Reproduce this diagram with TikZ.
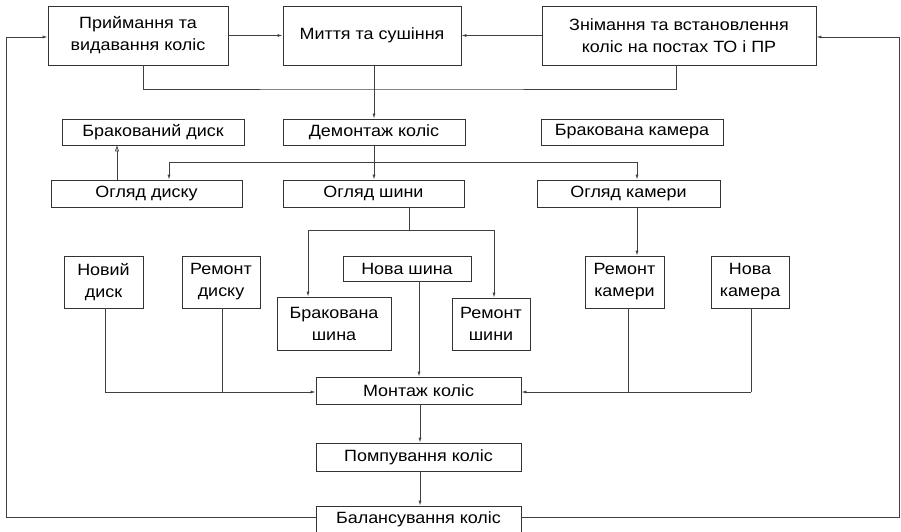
\documentclass[tikz,border=0pt]{standalone}
\usepackage{fontspec}
\setmainfont{Liberation Sans}[FakeStretch=1.1]
\usetikzlibrary{arrows.meta}
\tikzset{
  box/.style={draw=black!80, line width=0.8pt, rectangle, inner sep=0pt, align=center,
    font=\fontsize{16.3}{22}\selectfont, text=black},
  ln/.style={draw=black!75, line width=0.8pt},
  arr/.style={ln, -{Latex[length=5pt,width=3pt]}},
  openarr/.style={ln, -{Triangle[open,length=6pt,width=4pt]}},
}
\newcommand{\bx}[7]{\node[box, minimum width=#4pt, minimum height=#5pt] (#1) at (#2,#3) {#6#7};}
\begin{document}
\begin{tikzpicture}[x=1pt,y=-1pt]
\useasboundingbox (0,0) rectangle (901,532);
% boxes
\bx{b1}{138}{35.5}{180}{59}{Приймання та\\видавання коліс}{}
\bx{b2}{372}{35.5}{178}{59}{Миття та сушіння}{}
\bx{b3}{679}{35.5}{274}{59}{Знімання та встановлення\\коліс на постах ТО і ПР}{}
\bx{dem}{374}{132}{182}{26}{Демонтаж коліс}{}
\bx{brd}{153}{132}{182}{26}{Бракований диск}{}
\bx{brk}{632}{132}{182}{26}{Бракована камера}{}
\bx{ogd}{146.5}{193.5}{191}{27}{Огляд диску}{}
\bx{ogs}{373.5}{193.5}{181}{27}{Огляд шини}{}
\bx{ogk}{628.5}{193.5}{183}{27}{Огляд камери}{}
\bx{nd}{103.5}{282}{79}{52}{Новий\\диск}{}
\bx{rd}{221}{282}{78}{52}{Ремонт\\диску}{}
\bx{bsh}{334}{323.5}{114}{53}{Бракована\\шина}{}
\bx{nsh}{407}{268.5}{128}{25}{Нова шина}{}
\bx{rsh}{491}{324}{78}{52}{Ремонт\\шини}{}
\bx{rk}{624.5}{282}{79}{52}{Ремонт\\камери}{}
\bx{nk}{750}{282}{78}{52}{Нова\\камера}{}
\bx{mon}{418.5}{390.5}{205}{27}{Монтаж коліс}{}
\bx{pom}{418.5}{457}{205}{28}{Помпування коліс}{}
\bx{bal}{418.5}{519}{205}{26}{Балансування коліс}{}
% top row
\draw[arr] (b1.east) -- (b2.west);
\draw[arr] (b3.west) -- (b2.east);
\coordinate (jt) at (374,89);
\draw[ln] ([xshift=5pt]b1.south) |- (jt) -| ([xshift=-3pt]b3.south);
\draw[arr] (b2.south -| dem.north) -- (dem.north);
% distribution
\coordinate (hL) at (169,162);
\coordinate (hR) at (637,162);
\draw[ln] (hL) -- (hR);
\draw[arr] (dem.south) -- (ogs.north -| dem.south);
\draw[arr] (hL) -- (hL |- ogd.north);
\draw[arr] (hR) -- (hR |- ogk.north);
\draw[openarr] (ogd.north -| 117,0) -- (brd.south -| 117,0);
% tyre
\coordinate (sL) at (308,230);
\coordinate (sR) at (494,230);
\draw[ln] (ogs.south -| 409,0) -- (409,230);
\draw[ln] (sL) -- (sR);
\draw[arr] (sL) -- (sL |- bsh.north);
\draw[arr] (sR) -- (sR |- rsh.north);
\draw[arr] (nsh.south -| 419,0) -- (mon.north -| 419,0);
% camera
\draw[arr] (ogk.south -| 637,0) -- (rk.north -| 637,0);
% into assembly
\coordinate (mL) at (105,392);
\coordinate (mR) at (751,392);
\draw[ln] (nd.south -| mL) -- (mL);
\draw[ln] (rd.south -| 222,0) -- (222,392);
\draw[arr] (mL) -- (mon.west |- mL);
\draw[ln] (nk.south -| mR) -- (mR);
\draw[ln] (rk.south -| 628,0) -- (628,392);
\draw[arr] (mR) -- (mon.east |- mR);
% down
\draw[arr] (mon.south -| 420,0) -- (pom.north -| 420,0);
\draw[arr] (pom.south -| 420,0) -- (bal.north -| 420,0);
% loops
\coordinate (lB) at (6,517);
\coordinate (lT) at (6,37);
\coordinate (rB) at (899,517);
\coordinate (rT) at (899,37);
\draw[arr] (bal.west |- lB) -- (lB) -- (lT) -- (b1.west |- lT);
\draw[arr] (bal.east |- rB) -- (rB) -- (rT) -- (b3.east |- rT);
\end{tikzpicture}
\end{document}
